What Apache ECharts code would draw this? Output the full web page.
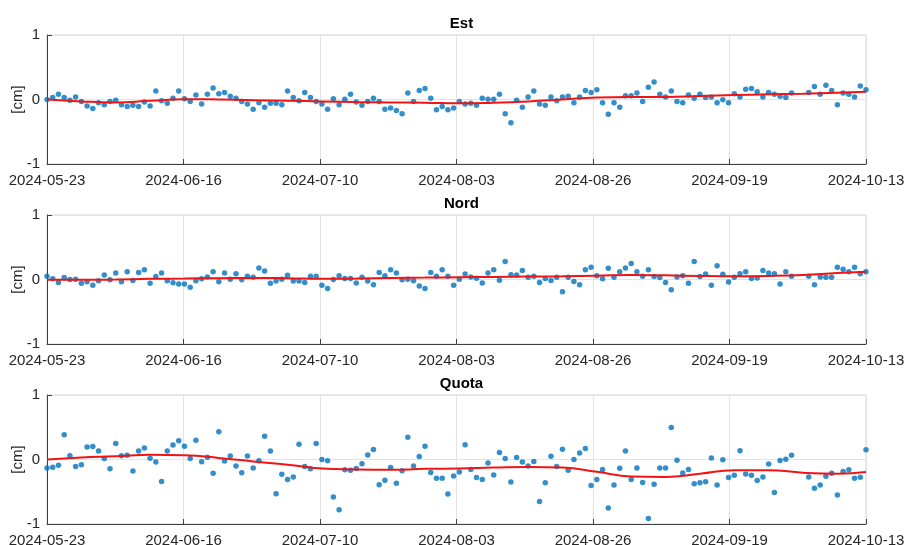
<!DOCTYPE html>
<html><head><meta charset="utf-8">
<script src="https://cdn.jsdelivr.net/npm/echarts@6/dist/echarts.min.js"></script>
<style>html,body{margin:0;padding:0;background:#fff}#c{width:908px;height:545px}</style>
</head><body><div id="c"></div>
<script>
// ---- data (one value per day starting 2024-05-23; null = missing day) ----
const startDate = '2024-05-23';
const tickLabels = ['2024-05-23','2024-06-16','2024-07-10','2024-08-03','2024-08-26','2024-09-19','2024-10-13'];
const panelTitles = ['Est', 'Nord', 'Quota'];
const yTickValues = [-1, 0, 1];
const yName = '[cm]';

const est = [
  0.00, 0.03, 0.08, 0.03, -0.01, 0.04, -0.03, -0.10, -0.14, -0.05, -0.08, -0.03,
  -0.01, -0.08, -0.11, -0.09, -0.11, -0.04, -0.10, 0.13, -0.02, -0.06, 0.02, 0.13,
  0.01, -0.03, 0.07, -0.07, 0.08, 0.18, 0.09, 0.11, 0.05, 0.02, -0.03, -0.07,
  -0.15, -0.05, -0.12, -0.06, -0.06, -0.08, 0.13, 0.03, -0.02, 0.11, 0.03, -0.03,
  -0.07, -0.15, 0.01, -0.08, 0.005, 0.08, -0.04, -0.09, -0.03, 0.02, -0.03, -0.15,
  -0.13, -0.17, -0.22, 0.10, -0.03, 0.14, 0.17, 0.02, -0.16, -0.11, -0.16, -0.13,
  -0.03, -0.07, -0.06, -0.09, 0.02, 0.005, 0.005, 0.08, -0.22, -0.36, -0.01, -0.12,
  0.04, 0.13, -0.07, -0.09, 0.04, -0.02, 0.04, 0.05, -0.05, 0.04, 0.14, 0.11,
  0.15, -0.05, -0.23, -0.05, -0.12, 0.06, 0.06, 0.10, -0.03, 0.19, 0.27, 0.08,
  0.04, 0.13, -0.03, -0.05, 0.07, 0.02, 0.08, 0.03, 0.04, -0.05, -0.005, -0.05,
  0.09, 0.04, 0.16, 0.17, 0.12, 0.04, 0.11, 0.08, 0.05, 0.03, 0.10, null,
  null, 0.11, 0.20, 0.08, 0.22, 0.14, -0.08, 0.10, 0.08, 0.04, 0.21, 0.15
];
const nord = [
  0.05, 0.01, -0.045, 0.03, 0.00, 0.005, -0.06, -0.035, -0.09, -0.02, 0.07, -0.005,
  0.10, -0.035, 0.12, -0.015, 0.11, 0.15, -0.06, 0.045, 0.10, -0.02, -0.05, -0.07,
  -0.07, -0.12, -0.02, 0.01, 0.04, 0.12, -0.035, 0.10, 0.005, 0.09, -0.005, 0.05,
  0.035, 0.18, 0.13, -0.06, -0.025, 0.005, 0.065, -0.025, -0.025, -0.045, 0.05, 0.05,
  -0.09, -0.14, 0.00, 0.06, 0.015, 0.015, -0.055, 0.035, -0.025, -0.08, 0.11, 0.06,
  0.15, 0.10, -0.005, 0.005, -0.02, -0.10, -0.14, 0.11, 0.05, 0.15, 0.05, -0.09,
  0.005, 0.085, 0.04, 0.02, -0.055, 0.10, 0.15, -0.01, 0.28, 0.075, 0.07, 0.14,
  0.035, 0.05, -0.045, 0.015, -0.015, 0.035, -0.19, 0.035, -0.03, -0.08, 0.15, 0.19,
  0.06, 0.01, 0.175, 0.035, 0.12, 0.18, 0.25, 0.12, 0.05, 0.15, 0.045, 0.03,
  -0.045, -0.16, 0.04, 0.06, -0.06, 0.28, 0.045, 0.085, -0.09, 0.215, 0.08, -0.04,
  0.035, 0.09, 0.12, 0.015, 0.025, 0.14, 0.10, 0.09, -0.07, 0.12, 0.05, null,
  null, 0.05, -0.08, 0.04, 0.035, 0.035, 0.19, 0.16, 0.12, 0.19, 0.09, 0.12
];
const quota = [
  -0.13, -0.12, -0.09, 0.385, 0.06, -0.11, -0.08, 0.195, 0.20, 0.13, 0.015, -0.145,
  0.25, 0.06, 0.065, -0.18, 0.13, 0.18, 0.02, -0.04, -0.34, 0.13, 0.225, 0.29,
  0.205, 0.015, 0.30, -0.035, 0.035, -0.215, 0.43, -0.025, 0.055, -0.10, -0.205, 0.055,
  -0.13, -0.02, 0.36, 0.13, -0.53, -0.23, -0.31, -0.27, 0.235, -0.11, -0.145, 0.25,
  0.00, -0.02, -0.58, -0.78, -0.16, -0.165, -0.14, -0.065, 0.07, 0.155, -0.39, -0.32,
  -0.125, -0.37, -0.175, 0.345, -0.10, 0.045, 0.205, -0.20, -0.29, -0.29, -0.535, -0.255,
  -0.195, 0.23, -0.155, -0.28, -0.31, -0.055, -0.24, 0.11, 0.015, -0.35, 0.03, -0.04,
  -0.10, -0.03, -0.65, -0.36, 0.05, -0.11, 0.16, -0.165, 0.00, 0.10, 0.17, -0.405,
  -0.31, -0.155, -0.75, -0.395, -0.135, 0.13, -0.31, -0.13, -0.355, -0.915, -0.385, -0.13,
  -0.13, 0.495, -0.01, -0.21, -0.155, -0.375, -0.36, -0.345, 0.025, -0.395, -0.005, -0.28,
  -0.245, 0.135, -0.225, -0.245, -0.325, -0.27, -0.07, -0.51, -0.015, 0.005, 0.065, null,
  null, -0.27, -0.445, -0.395, -0.26, -0.215, -0.55, -0.185, -0.16, -0.29, -0.275, 0.15
];

// smoothed trend (red curve), read at these day offsets
const trendDays  = [0, 6, 12, 18, 24, 30, 36, 42, 48, 54, 60, 66, 72, 78, 84, 90, 96, 102, 108, 114, 120, 126, 132, 138, 143];
const estTrend   = [0.00, -0.03, -0.045, -0.02, 0.005, 0.00, -0.01, -0.02, -0.03, -0.04, -0.045, -0.05, -0.06, -0.05, -0.03, 0.00, 0.03, 0.04, 0.04, 0.055, 0.07, 0.08, 0.09, 0.105, 0.12];
const nordTrend  = [-0.005, -0.005, 0.00, 0.01, 0.015, 0.02, 0.025, 0.02, 0.01, 0.015, 0.025, 0.03, 0.035, 0.04, 0.045, 0.05, 0.06, 0.07, 0.065, 0.055, 0.05, 0.055, 0.07, 0.10, 0.12];
const quotaTrend = [0.00, 0.03, 0.05, 0.075, 0.065, 0.025, -0.03, -0.08, -0.14, -0.155, -0.16, -0.145, -0.14, -0.125, -0.115, -0.125, -0.19, -0.265, -0.27, -0.22, -0.165, -0.165, -0.205, -0.22, -0.195];

// ---- chart ----
const HOURS = 24;                 // x axis unit: hours since startDate
const X_MAX = 143 * HOURS;        // 2024-10-13
const X_STEP = X_MAX / 6;         // 572 h between labelled ticks

const panels = [
  {title: panelTitles[0], values: est, trend: estTrend},
  {title: panelTitles[1], values: nord, trend: nordTrend},
  {title: panelTitles[2], values: quota, trend: quotaTrend}
];
const tops = [35, 215, 395];
const titleTops = [11, 191, 371];
const textColor = '#262626';
const FONT = 'Liberation Sans, Arial, Helvetica, sans-serif';

const option = {
  animation: false,
  backgroundColor: '#fff',
  title: panels.map((p, i) => ({
    text: p.title, left: 456.5, top: titleTops[i], textAlign: 'center',
    textStyle: {fontFamily: FONT, fontSize: 15, fontWeight: 'bold', color: '#000'}
  })),
  grid: tops.map(t => ({
    left: 47, right: 42, top: t, height: 129, show: true,
    containLabel: false, outerBoundsMode: 'none',
    borderColor: '#d4d4d4', borderWidth: 1, backgroundColor: 'transparent'
  })),
  xAxis: panels.map((p, i) => ({
    type: 'value', gridIndex: i, min: 0, max: X_MAX, interval: X_STEP,
    axisLine: {show: true, onZero: false, lineStyle: {color: '#404040', width: 1}},
    axisTick: {show: true, inside: true, length: 5, lineStyle: {color: '#404040'}},
    splitLine: {show: true, lineStyle: {color: '#e3e3e3', width: 1}},
    axisLabel: {
      margin: 9, fontSize: 15, fontFamily: FONT, color: textColor,
      showMinLabel: true, showMaxLabel: true, hideOverlap: false,
      formatter: v => tickLabels[Math.round(v / X_STEP)] || ''
    }
  })),
  yAxis: panels.map((p, i) => ({
    type: 'value', gridIndex: i, min: yTickValues[0], max: yTickValues[2], interval: 1,
    name: yName, nameLocation: 'middle', nameGap: 22, nameMoveOverlap: false,
    nameTextStyle: {fontFamily: FONT, fontSize: 15, color: textColor},
    axisLine: {show: true, lineStyle: {color: '#404040', width: 1}},
    axisTick: {show: true, inside: true, length: 5, lineStyle: {color: '#404040'}},
    splitLine: {show: true, lineStyle: {color: '#e3e3e3', width: 1}},
    axisLabel: {margin: 7, fontSize: 15, fontFamily: FONT, color: textColor}
  })),
  series: []
};

panels.forEach((p, i) => {
  const pts = [];
  p.values.forEach((v, d) => { if (v !== null) pts.push([d * HOURS, v]); });
  option.series.push({
    type: 'scatter', xAxisIndex: i, yAxisIndex: i, data: pts,
    symbol: 'circle', symbolSize: 5.5, itemStyle: {color: '#0072bd'}, z: 2
  });
  option.series.push({
    type: 'line', xAxisIndex: i, yAxisIndex: i,
    data: trendDays.map((d, k) => [d * HOURS, p.trend[k]]),
    smooth: 0.5, showSymbol: false, symbol: 'none',
    lineStyle: {color: '#f01414', width: 2}, z: 3
  });
});

const chart = echarts.init(document.getElementById('c'), null, {renderer: 'canvas'});
chart.setOption(option);
</script>
</body></html>
